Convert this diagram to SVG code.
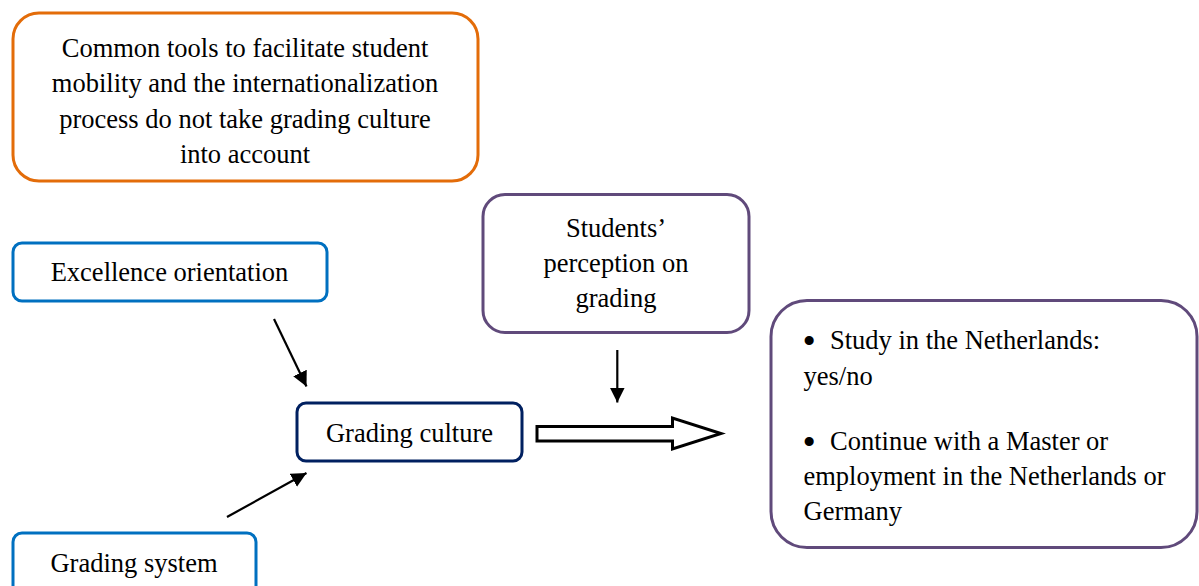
<svg xmlns="http://www.w3.org/2000/svg" width="1199" height="586" viewBox="0 0 1199 586">
<defs>
<style>
.t{font-family:"Liberation Serif","Times New Roman",serif;font-size:26.5px;fill:#000}
.c{text-anchor:middle}
.b{font-family:"Liberation Serif","Times New Roman",serif;font-size:38px;fill:#000}
.box{fill:#fff;stroke-width:3}
.ln{stroke:#000;stroke-width:2.2;fill:none}
</style>
<marker id="ah" viewBox="0 0 10 10" refX="10" refY="5" markerWidth="15" markerHeight="15" markerUnits="userSpaceOnUse" orient="auto">
<path d="M0,0 L10,5 L0,10 Z" fill="#000"/>
</marker>
</defs>
<rect width="1199" height="586" fill="#fff"/>
<g id="common-tools">
<rect class="box" x="13" y="13" width="465" height="168" rx="26" stroke="#E36C09"/>
<text class="t c" x="245" y="57">Common tools to facilitate student</text>
<text class="t c" x="245" y="92">mobility and the internationalization</text>
<text class="t c" x="245" y="127.5">process do not take grading culture</text>
<text class="t c" x="245" y="163">into account</text>
</g>
<g id="excellence">
<rect class="box" x="13" y="243" width="314" height="58" rx="9" stroke="#0070C0"/>
<text class="t c" x="169.5" y="281">Excellence orientation</text>
</g>
<g id="grading-system">
<rect class="box" x="13" y="533" width="243" height="70" rx="9" stroke="#0070C0"/>
<text class="t c" x="134" y="571.5">Grading system</text>
</g>
<g id="grading-culture">
<rect class="box" x="297" y="403" width="225" height="58" rx="9" stroke="#002060"/>
<text class="t c" x="409.5" y="441.5">Grading culture</text>
</g>
<g id="students-perception">
<rect class="box" x="483" y="194.5" width="266" height="138" rx="22" stroke="#604A7B"/>
<text class="t c" x="616" y="236.5">Students’</text>
<text class="t c" x="616" y="271.5">perception on</text>
<text class="t c" x="616" y="306.5">grading</text>
</g>
<g id="outcomes">
<rect class="box" x="771" y="300.5" width="426" height="247" rx="36" stroke="#604A7B"/>
<text class="b" x="802.5" y="353.5">•</text>
<text class="t" x="830" y="348.5">Study in the Netherlands:</text>
<text class="t" x="803.5" y="385">yes/no</text>
<text class="b" x="802.5" y="455">•</text>
<text class="t" x="830" y="450">Continue with a Master or</text>
<text class="t" x="803.5" y="485">employment in the Netherlands or</text>
<text class="t" x="803.5" y="520">Germany</text>
</g>
<g id="connectors">
<line class="ln" x1="274" y1="319" x2="306.5" y2="386.5" marker-end="url(#ah)"/>
<line class="ln" x1="227" y1="517" x2="306.5" y2="473" marker-end="url(#ah)"/>
<line class="ln" x1="617.3" y1="350" x2="617.3" y2="402.5" marker-end="url(#ah)"/>
<path d="M537,426.5 L672.5,426.5 L672.5,418 L721,433.5 L672.5,449 L672.5,441 L537,441 Z" fill="#fff" stroke="#000" stroke-width="3" stroke-linejoin="miter"/>
</g>
</svg>
